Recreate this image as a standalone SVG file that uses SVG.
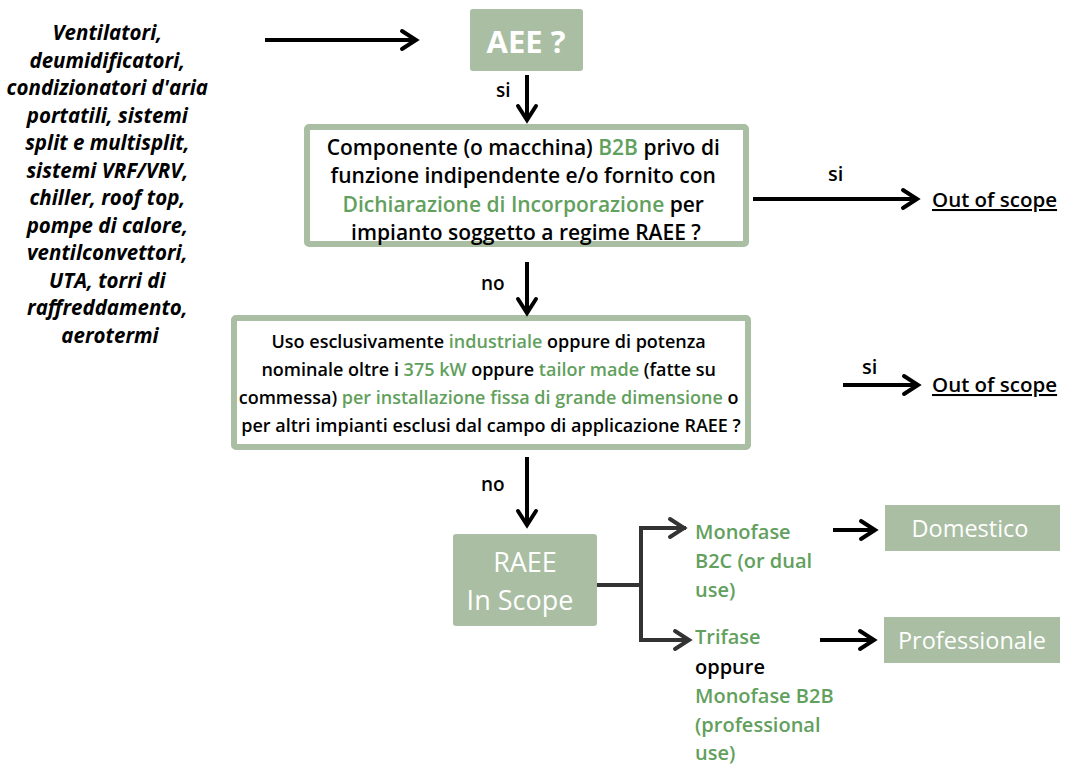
<svg xmlns="http://www.w3.org/2000/svg" width="1068" height="765" viewBox="0 0 1068 765">
<defs>
<marker id="ah" markerUnits="userSpaceOnUse" markerWidth="24" markerHeight="24" viewBox="0 0 24 24" refX="20" refY="12" orient="auto">
<path d="M6,3 L20,12 L6,21" fill="none" stroke="#000" stroke-width="4" stroke-linecap="round" stroke-linejoin="miter"/>
</marker>
<marker id="ahg" markerUnits="userSpaceOnUse" markerWidth="24" markerHeight="24" viewBox="0 0 24 24" refX="20" refY="12" orient="auto">
<path d="M6,3 L20,12 L6,21" fill="none" stroke="#333" stroke-width="4" stroke-linecap="round"/>
</marker>
</defs>
<style>
.t{font-family:"Open Sans","Liberation Sans",sans-serif;font-weight:600;fill:#000}
.g{fill:#62a05d}
.w{font-family:"Open Sans","Liberation Sans",sans-serif;fill:#fff}
.fill{fill:#a9bea2}
.frame{fill:#fff;stroke:#a9bea2;stroke-width:6}
.c{stroke:#000;stroke-width:4;fill:none}
.cg{stroke:#333;stroke-width:4;fill:none}
.it{font-family:"Open Sans","Liberation Sans",sans-serif;font-style:italic;font-weight:700;font-size:20.5px;fill:#000}
</style>
<rect width="1068" height="765" fill="#fff"/>
<g id="source">
<text class="it" text-anchor="middle" x="110">
<tspan x="110" y="40">Ventilatori,</tspan>
<tspan x="110" y="67.5">deumidificatori,</tspan>
<tspan x="110" y="95">condizionatori d'aria</tspan>
<tspan x="110" y="122.5">portatili, sistemi</tspan>
<tspan x="110" y="150">split e multisplit,</tspan>
<tspan x="110" y="177.5">sistemi VRF/VRV,</tspan>
<tspan x="110" y="205">chiller, roof top,</tspan>
<tspan x="110" y="232.5">pompe di calore,</tspan>
<tspan x="110" y="260">ventilconvettori,</tspan>
<tspan x="110" y="287.5">UTA, torri di</tspan>
<tspan x="110" y="315">raffreddamento,</tspan>
<tspan x="110" y="342.5">aerotermi</tspan>
</text>
</g>
<g id="aee">
<rect class="fill" x="470" y="9" width="113" height="62" rx="3"/>
<text class="w" x="526" y="53" text-anchor="middle" font-size="31" font-weight="700">AEE ?</text>
</g>
<g id="q1">
<rect class="frame" x="307" y="127" width="439" height="117" rx="2"/>
<text class="t" font-size="21" text-anchor="middle">
<tspan x="526" y="155">Componente (o macchina) <tspan class="g">B2B</tspan> privo di</tspan>
<tspan x="526" y="183">funzione indipendente e/o fornito con</tspan>
<tspan x="526" y="212"><tspan class="g">Dichiarazione di Incorporazione</tspan>  per</tspan>
<tspan x="526" y="240">impianto soggetto a regime RAEE ?</tspan>
</text>
</g>
<g id="q2">
<rect class="frame" x="234" y="318" width="514" height="129" rx="2"/>
<text class="t" font-size="18" text-anchor="middle">
<tspan x="491" y="348">Uso esclusivamente <tspan class="g">industriale</tspan> oppure di potenza</tspan>
<tspan x="491" y="376">nominale oltre i <tspan class="g">375 kW</tspan> oppure <tspan class="g">tailor made</tspan> (fatte su</tspan>
<tspan x="491" y="404">commessa) <tspan class="g">per installazione fissa di grande dimensione</tspan> o</tspan>
<tspan x="491" y="432">per altri impianti esclusi dal campo di applicazione RAEE ?</tspan>
</text>
</g>
<g id="out1">
<text class="t" font-size="20.5" x="932" y="207" text-decoration="underline">Out of scope</text>
</g>
<g id="out2">
<text class="t" font-size="20.5" x="932" y="392" text-decoration="underline">Out of scope</text>
</g>
<g id="raee">
<rect class="fill" x="453" y="534" width="144" height="92" rx="3"/>
<text class="w" font-size="27" text-anchor="middle"><tspan x="525" y="572">RAEE</tspan><tspan x="520" y="610">In Scope</tspan></text>
</g>
<g id="b2c">
<text class="t" font-size="20"><tspan class="g" x="695" y="539">Monofase</tspan><tspan class="g" x="695" y="568">B2C (or dual</tspan><tspan class="g" x="695" y="597">use)</tspan></text>
</g>
<g id="b2b">
<text class="t" font-size="20"><tspan class="g" x="695" y="644">Trifase</tspan><tspan x="695" y="674">oppure</tspan><tspan class="g" x="695" y="703">Monofase B2B</tspan><tspan class="g" x="695" y="732">(professional</tspan><tspan class="g" x="695" y="760">use)</tspan></text>
</g>
<g id="domestico">
<rect class="fill" x="885" y="505" width="175" height="46"/>
<text class="w" font-size="23.5" x="970" y="537" text-anchor="middle">Domestico</text>
</g>
<g id="professionale">
<rect class="fill" x="884" y="617" width="176" height="46"/>
<text class="w" font-size="23.5" x="972" y="649" text-anchor="middle">Professionale</text>
</g>
<g id="connectors">
<line class="c" x1="265" y1="40" x2="416" y2="40" marker-end="url(#ah)"/>
<line class="c" x1="527" y1="75" x2="527" y2="120" marker-end="url(#ah)"/>
<text class="t" font-size="19" font-weight="400" x="496" y="97">si</text>
<line class="c" x1="753" y1="199" x2="917" y2="199" marker-end="url(#ah)"/>
<text class="t" font-size="20" font-weight="400" x="828" y="181">si</text>
<line class="c" x1="527" y1="262" x2="527" y2="313" marker-end="url(#ah)"/>
<text class="t" font-size="19" font-weight="400" x="481" y="290">no</text>
<line class="c" x1="843" y1="385" x2="918" y2="385" marker-end="url(#ah)"/>
<text class="t" font-size="20" font-weight="400" x="862" y="374">si</text>
<line class="c" x1="527" y1="457" x2="527" y2="525" marker-end="url(#ah)"/>
<text class="t" font-size="19" font-weight="400" x="481" y="491">no</text>
<polyline class="cg" points="597,585 641,585"/>
<polyline class="cg" points="686,528 641,528 641,640 689,640" marker-end="url(#ahg)"/>
<line class="cg" x1="641" y1="528" x2="684" y2="528" marker-end="url(#ahg)"/>
<line class="c" x1="833" y1="530" x2="875" y2="530" marker-end="url(#ah)"/>
<line class="c" x1="820" y1="640" x2="874" y2="640" marker-end="url(#ah)"/>
</g>
</svg>
